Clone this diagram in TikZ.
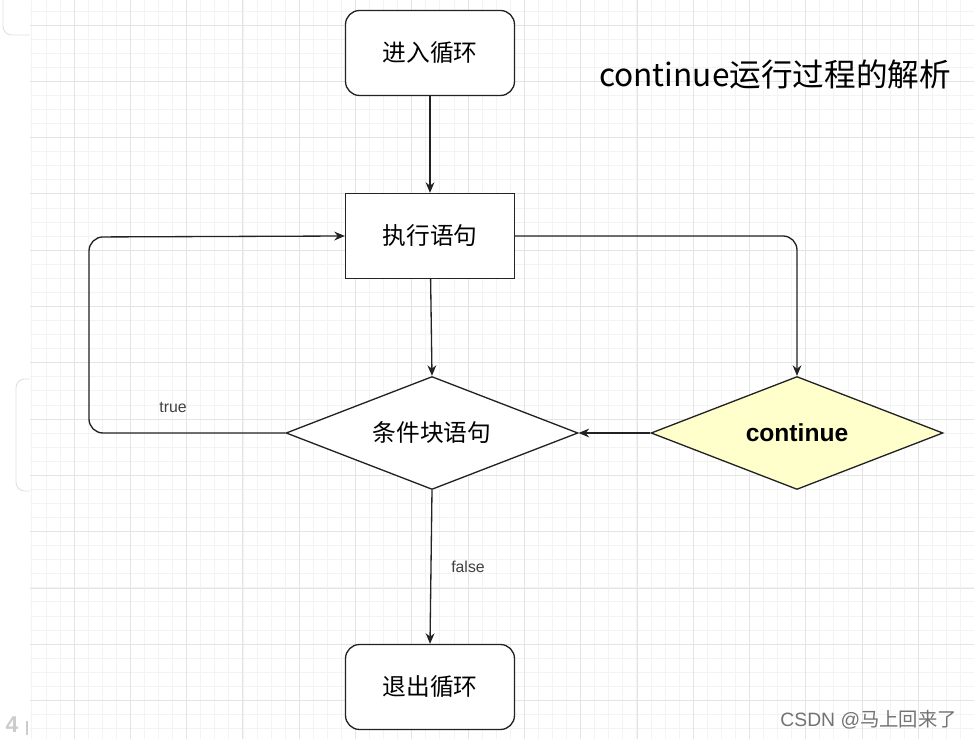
\documentclass[tikz,border=0pt]{standalone}
\usepackage{fontspec}
\setmainfont{Liberation Sans}
\newfontfamily\cjk{Noto Sans CJK SC}
\usetikzlibrary{shapes.geometric, arrows.meta}

\definecolor{gridminor}{HTML}{F3F3F3}
\definecolor{gridmajor}{HTML}{E4E4E4}
\definecolor{lineclr}{HTML}{222222}
\definecolor{contfill}{HTML}{FFFFCC}

\tikzset{
    box/.style={draw=lineclr, line width=0.75pt, fill=white, minimum width=3.38cm, minimum height=1.7cm, font=\cjk\fontsize{13.5}{16}\selectfont},
    startstop/.style={box, rounded corners=8pt},
    decision/.style={draw=lineclr, line width=0.75pt, diamond, shape aspect=2.58, inner sep=0pt, minimum width=5.84cm, minimum height=2.26cm},
    flow/.style={draw=lineclr, line width=0.75pt, -{Stealth[length=6pt, width=5pt]}},
    edgelabel/.style={font=\fontsize{9}{11}\selectfont, text=black!75}
}

\begin{document}
\begin{tikzpicture}[x=0.02cm, y=-0.02cm]
        \useasboundingbox (0,0) rectangle (974,739);
        % background grid
        \fill[white] (0,0) rectangle (974,739);
        \foreach \i in {0,...,67} {
            \draw[gridminor, line width=0.4pt] ({31.8+14.07*\i},0) -- ({31.8+14.07*\i},739);
        }
        \foreach \i in {0,...,52} {
            \draw[gridminor, line width=0.4pt] (30,{10.9+14.07*\i}) -- (974,{10.9+14.07*\i});
        }
        \foreach \i in {0,...,16} {
            \draw[gridmajor, line width=0.5pt] ({74+56.3*\i},0) -- ({74+56.3*\i},739);
        }
        \foreach \i in {0,...,12} {
            \draw[gridmajor, line width=0.5pt] (30,{25+56.3*\i}) -- (974,{25+56.3*\i});
        }
        % faint fragments at the left edge
        \draw[black!12, line width=0.5pt, rounded corners=5pt] (3,0) -- (3,35) -- (30,35);
        \draw[black!12, line width=0.5pt, rounded corners=5pt] (30,379) -- (16,379) -- (16,491) -- (30,491);
        \node[text=black!20, font=\bfseries\fontsize{13}{15}\selectfont] (pagenum) at (12,725) {4};
        \draw[black!20, line width=1.5pt] (27,721) -- (27,735);

        % nodes
        \node[startstop] (enter) at (430,53) {进入循环};
        \node[box] (exec) at (430,236) {执行语句};
        \node[decision, fill=white] (cond) at (432,433) {\cjk\fontsize{13.5}{16}\selectfont 条件块语句};
        \node[decision, fill=contfill] (cont) at (797,433) {\bfseries\fontsize{14}{16}\selectfont continue};
        \node[startstop] (exit) at (430,687) {退出循环};
        \node[font=\cjk\fontsize{18}{21}\selectfont] (title) at (775,74) {continue运行过程的解析};
        \coordinate (loopb) at (89,433);
        \coordinate (loopt) at (89,237);

        % connectors
        \draw[flow] (enter) -- (exec);
        \draw[flow] (exec) -- (cond.north);
        \draw[flow, rounded corners=8pt] (cond.west) -- (loopb) -- (loopt) -- (exec.west);
        \draw[flow, rounded corners=8pt] (exec.east) -| (cont.north);
        \draw[flow] (cont.west) -- (cond.east);
        \draw[flow] (cond.south) -- (exit.north);
        \node[edgelabel] (truelbl) at (173,407) {true};
        \node[edgelabel] (falselbl) at (468,567) {false};

        % watermark
        \node[text=black!55, font=\fontsize{11}{13}\selectfont, anchor=east] (mark) at (963,720) {CSDN @{\cjk 马上回来了}};
    \end{tikzpicture}
\end{document}
